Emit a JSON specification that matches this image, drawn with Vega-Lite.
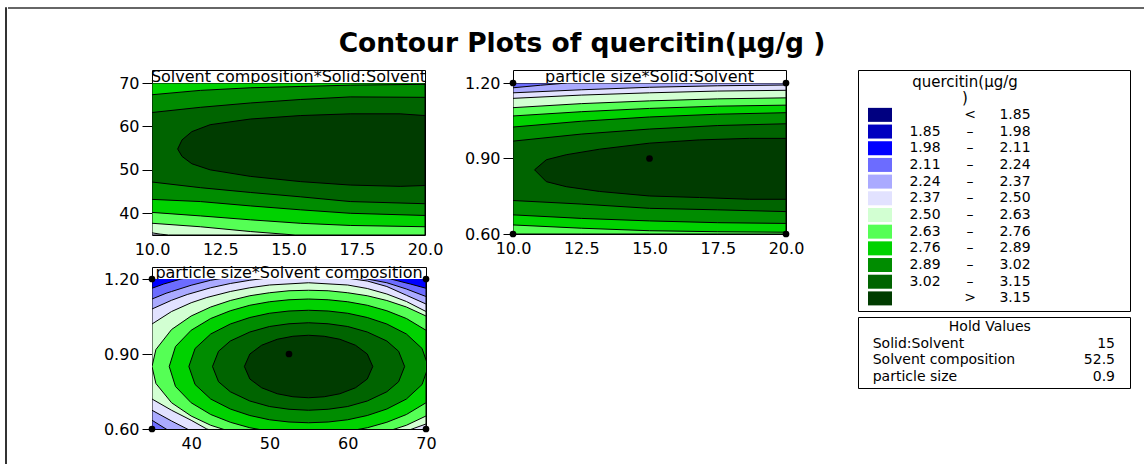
{
"$schema":"https://vega.github.io/schema/vega-lite/v6.json",
"background":"white",
"padding":{"left":4,"top":6,"right":0,"bottom":0},
"config":{"view":{"stroke":null},"font":"DejaVu Sans",
 "axis":{"labelFont":"DejaVu Sans","labelFontSize":16,"labelColor":"black","tickColor":"black","grid":false,"domain":false,"title":null,"tickSize":10,"tickWidth":1,"labelPadding":3,"labelFlush":false,"labelOverlap":false},
 "text":{"font":"DejaVu Sans","fontSize":14,"color":"black"}},
"datasets":{
"p1":[
{"band":"b5","x":10,"lo":35,"hi":70},{"band":"b5","x":20,"lo":35,"hi":70},
{"band":"b6","x":10,"lo":35.5,"hi":70},{"band":"b6","x":10.3,"lo":35.2,"hi":70},{"band":"b6","x":10.6,"lo":35,"hi":70},{"band":"b6","x":20,"lo":35,"hi":70},
{"band":"b7","x":10,"lo":37.7,"hi":70},{"band":"b7","x":11.77,"lo":36.9,"hi":70},{"band":"b7","x":13.6,"lo":35.8,"hi":70},{"band":"b7","x":15.24,"lo":35,"hi":70},{"band":"b7","x":20,"lo":35,"hi":70},
{"band":"b8","x":10,"lo":40.2,"hi":70},{"band":"b8","x":11.77,"lo":39.4,"hi":70},{"band":"b8","x":13.6,"lo":38.5,"hi":70},{"band":"b8","x":15.43,"lo":37.7,"hi":70},{"band":"b8","x":17.26,"lo":37.2,"hi":70},{"band":"b8","x":20,"lo":36.9,"hi":70},
{"band":"b9","x":10,"lo":43.2,"hi":67.3},{"band":"b9","x":11.77,"lo":42.7,"hi":68.3},{"band":"b9","x":13.6,"lo":41.7,"hi":68.9},{"band":"b9","x":15.43,"lo":40.8,"hi":69.2},{"band":"b9","x":17.26,"lo":40,"hi":69.5},{"band":"b9","x":20,"lo":39.5,"hi":69.7},
{"band":"b10","x":10,"lo":47.2,"hi":63.2},{"band":"b10","x":11.77,"lo":45.9,"hi":64.4},{"band":"b10","x":13.6,"lo":44.8,"hi":65.4},{"band":"b10","x":15.43,"lo":43.8,"hi":66.2},{"band":"b10","x":17.26,"lo":42.7,"hi":66.8},{"band":"b10","x":20,"lo":42.2,"hi":66.7},
{"band":"b11","x":10.94,"lo":54.8,"hi":54.8},{"band":"b11","x":11.1,"lo":53.1,"hi":56.9},{"band":"b11","x":11.46,"lo":51.4,"hi":58.8},{"band":"b11","x":12.13,"lo":50,"hi":60.4},{"band":"b11","x":13.6,"lo":48.5,"hi":61.7},{"band":"b11","x":15.43,"lo":47.3,"hi":62.5},{"band":"b11","x":17.26,"lo":46.5,"hi":62.9},{"band":"b11","x":19.09,"lo":46.2,"hi":62.9},{"band":"b11","x":20,"lo":46.4,"hi":62.5}
],
"p2":[
{"band":"b3","x":10,"lo":0.6,"hi":1.2},{"band":"b3","x":20,"lo":0.6,"hi":1.2},
{"band":"b4","x":10,"lo":0.6,"hi":1.181},{"band":"b4","x":11,"lo":0.6,"hi":1.191},{"band":"b4","x":12,"lo":0.6,"hi":1.2},{"band":"b4","x":20,"lo":0.6,"hi":1.2},
{"band":"b5","x":10,"lo":0.6,"hi":1.161},{"band":"b5","x":12.5,"lo":0.6,"hi":1.173},{"band":"b5","x":15,"lo":0.6,"hi":1.183},{"band":"b5","x":17.5,"lo":0.6,"hi":1.189},{"band":"b5","x":20,"lo":0.6,"hi":1.192},
{"band":"b6","x":10,"lo":0.6,"hi":1.139},{"band":"b6","x":12.5,"lo":0.6,"hi":1.152},{"band":"b6","x":15,"lo":0.6,"hi":1.161},{"band":"b6","x":17.5,"lo":0.6,"hi":1.168},{"band":"b6","x":20,"lo":0.6,"hi":1.171},
{"band":"b7","x":10,"lo":0.6,"hi":1.102},{"band":"b7","x":12.5,"lo":0.6,"hi":1.118},{"band":"b7","x":15,"lo":0.6,"hi":1.129},{"band":"b7","x":17.5,"lo":0.6,"hi":1.137},{"band":"b7","x":20,"lo":0.6,"hi":1.141},
{"band":"b8","x":10,"lo":0.636,"hi":1.069},{"band":"b8","x":12.5,"lo":0.623,"hi":1.086},{"band":"b8","x":15,"lo":0.613,"hi":1.099},{"band":"b8","x":17.5,"lo":0.609,"hi":1.108},{"band":"b8","x":20,"lo":0.607,"hi":1.112},
{"band":"b9","x":10,"lo":0.676,"hi":1.025},{"band":"b9","x":12.5,"lo":0.662,"hi":1.048},{"band":"b9","x":15,"lo":0.652,"hi":1.065},{"band":"b9","x":17.5,"lo":0.645,"hi":1.076},{"band":"b9","x":20,"lo":0.642,"hi":1.082},
{"band":"b10","x":10,"lo":0.733,"hi":0.969},{"band":"b10","x":12.5,"lo":0.719,"hi":0.997},{"band":"b10","x":15,"lo":0.702,"hi":1.017},{"band":"b10","x":17.5,"lo":0.696,"hi":1.031},{"band":"b10","x":20,"lo":0.689,"hi":1.038},
{"band":"b11","x":10.79,"lo":0.855,"hi":0.855},{"band":"b11","x":11.22,"lo":0.808,"hi":0.895},{"band":"b11","x":11.95,"lo":0.788,"hi":0.915},{"band":"b11","x":13.17,"lo":0.769,"hi":0.937},{"band":"b11","x":15,"lo":0.751,"hi":0.961},{"band":"b11","x":16.83,"lo":0.745,"hi":0.974},{"band":"b11","x":18.66,"lo":0.738,"hi":0.98},{"band":"b11","x":20,"lo":0.738,"hi":0.98}
],
"p3":[
{"band":"b0","x":35,"lo":0.6,"hi":1.2},{"band":"b0","x":70,"lo":0.6,"hi":1.2},
{"band":"b2","x":35,"lo":0.538,"hi":1.21},{"band":"b2","x":40,"lo":0.479,"hi":1.245},{"band":"b2","x":45,"lo":0.442,"hi":1.27},{"band":"b2","x":52,"lo":0.42,"hi":1.29},{"band":"b2","x":60,"lo":0.43,"hi":1.27},{"band":"b2","x":65,"lo":0.442,"hi":1.25},{"band":"b2","x":70,"lo":0.479,"hi":1.21},
{"band":"b3","x":35,"lo":0.571,"hi":1.163},{"band":"b3","x":36.5,"lo":0.55,"hi":1.18},{"band":"b3","x":38.7,"lo":0.523,"hi":1.2},{"band":"b3","x":42.5,"lo":0.484,"hi":1.222},{"band":"b3","x":45,"lo":0.466,"hi":1.235},{"band":"b3","x":52,"lo":0.442,"hi":1.25},{"band":"b3","x":59,"lo":0.446,"hi":1.235},{"band":"b3","x":62.5,"lo":0.456,"hi":1.222},{"band":"b3","x":65.5,"lo":0.47,"hi":1.2},{"band":"b3","x":68,"lo":0.488,"hi":1.18},{"band":"b3","x":70,"lo":0.506,"hi":1.163},
{"band":"b4","x":35,"lo":0.635,"hi":1.12},{"band":"b4","x":36.8,"lo":0.6,"hi":1.143},{"band":"b4","x":37.5,"lo":0.588,"hi":1.15},{"band":"b4","x":40,"lo":0.555,"hi":1.175},{"band":"b4","x":42.5,"lo":0.53,"hi":1.195},{"band":"b4","x":45,"lo":0.51,"hi":1.208},{"band":"b4","x":47.5,"lo":0.495,"hi":1.218},{"band":"b4","x":52,"lo":0.48,"hi":1.225},{"band":"b4","x":57,"lo":0.478,"hi":1.22},{"band":"b4","x":60,"lo":0.48,"hi":1.212},{"band":"b4","x":62.5,"lo":0.488,"hi":1.2},{"band":"b4","x":65,"lo":0.5,"hi":1.185},{"band":"b4","x":67.5,"lo":0.515,"hi":1.16},{"band":"b4","x":70,"lo":0.535,"hi":1.13},
{"band":"b5","x":35,"lo":0.675,"hi":1.08},{"band":"b5","x":37.5,"lo":0.632,"hi":1.115},{"band":"b5","x":39.5,"lo":0.6,"hi":1.138},{"band":"b5","x":42.5,"lo":0.565,"hi":1.165},{"band":"b5","x":45,"lo":0.545,"hi":1.182},{"band":"b5","x":47.5,"lo":0.53,"hi":1.195},{"band":"b5","x":50,"lo":0.52,"hi":1.205},{"band":"b5","x":55,"lo":0.512,"hi":1.211},{"band":"b5","x":60,"lo":0.52,"hi":1.203},{"band":"b5","x":62.5,"lo":0.53,"hi":1.192},{"band":"b5","x":65,"lo":0.545,"hi":1.17},{"band":"b5","x":67.5,"lo":0.563,"hi":1.135},{"band":"b5","x":70,"lo":0.585,"hi":1.1},
{"band":"b6","x":35,"lo":0.72,"hi":1.02},{"band":"b6","x":37.5,"lo":0.675,"hi":1.07},{"band":"b6","x":40,"lo":0.635,"hi":1.105},{"band":"b6","x":42,"lo":0.6,"hi":1.126},{"band":"b6","x":45,"lo":0.575,"hi":1.15},{"band":"b6","x":47.5,"lo":0.56,"hi":1.165},{"band":"b6","x":50,"lo":0.55,"hi":1.176},{"band":"b6","x":55,"lo":0.54,"hi":1.185},{"band":"b6","x":60,"lo":0.548,"hi":1.176},{"band":"b6","x":62.5,"lo":0.558,"hi":1.162},{"band":"b6","x":65,"lo":0.572,"hi":1.14},{"band":"b6","x":67.5,"lo":0.592,"hi":1.11},{"band":"b6","x":70,"lo":0.62,"hi":1.07},
{"band":"b7","x":35,"lo":0.85,"hi":0.85},{"band":"b7","x":35.5,"lo":0.782,"hi":0.918},{"band":"b7","x":37.5,"lo":0.705,"hi":0.998},{"band":"b7","x":40,"lo":0.652,"hi":1.052},{"band":"b7","x":42.5,"lo":0.615,"hi":1.088},{"band":"b7","x":45,"lo":0.59,"hi":1.114},{"band":"b7","x":47.5,"lo":0.572,"hi":1.133},{"band":"b7","x":50,"lo":0.56,"hi":1.145},{"band":"b7","x":52.5,"lo":0.552,"hi":1.153},{"band":"b7","x":55,"lo":0.55,"hi":1.155},{"band":"b7","x":57.5,"lo":0.552,"hi":1.153},{"band":"b7","x":60,"lo":0.56,"hi":1.145},{"band":"b7","x":62.5,"lo":0.572,"hi":1.133},{"band":"b7","x":65,"lo":0.59,"hi":1.114},{"band":"b7","x":67.5,"lo":0.615,"hi":1.088},{"band":"b7","x":70,"lo":0.652,"hi":1.052},
{"band":"b8","x":37.2,"lo":0.85,"hi":0.85},{"band":"b8","x":38,"lo":0.77,"hi":0.93},{"band":"b8","x":40,"lo":0.705,"hi":0.995},{"band":"b8","x":42.5,"lo":0.658,"hi":1.042},{"band":"b8","x":45,"lo":0.627,"hi":1.073},{"band":"b8","x":47.5,"lo":0.605,"hi":1.095},{"band":"b8","x":50,"lo":0.591,"hi":1.109},{"band":"b8","x":52.5,"lo":0.583,"hi":1.117},{"band":"b8","x":55,"lo":0.58,"hi":1.12},{"band":"b8","x":57.5,"lo":0.583,"hi":1.117},{"band":"b8","x":60,"lo":0.591,"hi":1.109},{"band":"b8","x":62.5,"lo":0.605,"hi":1.095},{"band":"b8","x":65,"lo":0.627,"hi":1.073},{"band":"b8","x":67.5,"lo":0.658,"hi":1.042},{"band":"b8","x":70,"lo":0.705,"hi":0.995},
{"band":"b9","x":39.71,"lo":0.85,"hi":0.85},{"band":"b9","x":40.5,"lo":0.778,"hi":0.922},{"band":"b9","x":42.5,"lo":0.72,"hi":0.98},{"band":"b9","x":45,"lo":0.68,"hi":1.02},{"band":"b9","x":47.5,"lo":0.654,"hi":1.046},{"band":"b9","x":50,"lo":0.637,"hi":1.063},{"band":"b9","x":52.5,"lo":0.628,"hi":1.072},{"band":"b9","x":55,"lo":0.625,"hi":1.075},{"band":"b9","x":57.5,"lo":0.628,"hi":1.072},{"band":"b9","x":60,"lo":0.637,"hi":1.063},{"band":"b9","x":62.5,"lo":0.654,"hi":1.046},{"band":"b9","x":65,"lo":0.68,"hi":1.02},{"band":"b9","x":67.5,"lo":0.72,"hi":0.98},{"band":"b9","x":69.5,"lo":0.778,"hi":0.922},{"band":"b9","x":70.29,"lo":0.85,"hi":0.85},
{"band":"b10","x":42.73,"lo":0.85,"hi":0.85},{"band":"b10","x":43.5,"lo":0.789,"hi":0.911},{"band":"b10","x":45,"lo":0.749,"hi":0.952},{"band":"b10","x":47.5,"lo":0.712,"hi":0.988},{"band":"b10","x":50,"lo":0.69,"hi":1.01},{"band":"b10","x":52.5,"lo":0.679,"hi":1.021},{"band":"b10","x":55,"lo":0.675,"hi":1.025},{"band":"b10","x":57.5,"lo":0.679,"hi":1.021},{"band":"b10","x":60,"lo":0.69,"hi":1.01},{"band":"b10","x":62.5,"lo":0.712,"hi":0.988},{"band":"b10","x":65,"lo":0.749,"hi":0.952},{"band":"b10","x":66.5,"lo":0.789,"hi":0.911},{"band":"b10","x":67.27,"lo":0.85,"hi":0.85},
{"band":"b11","x":46.8,"lo":0.85,"hi":0.85},{"band":"b11","x":47.5,"lo":0.8,"hi":0.9},{"band":"b11","x":49,"lo":0.765,"hi":0.935},{"band":"b11","x":51,"lo":0.741,"hi":0.959},{"band":"b11","x":53,"lo":0.729,"hi":0.971},{"band":"b11","x":55,"lo":0.725,"hi":0.975},{"band":"b11","x":57,"lo":0.729,"hi":0.971},{"band":"b11","x":59,"lo":0.741,"hi":0.959},{"band":"b11","x":61,"lo":0.765,"hi":0.935},{"band":"b11","x":62.5,"lo":0.8,"hi":0.9},{"band":"b11","x":63.2,"lo":0.85,"hi":0.85}
],
"p2dots":[{"x":10,"y":1.2},{"x":20,"y":1.2},{"x":10,"y":0.6},{"x":20,"y":0.6},{"x":15,"y":0.9}],
"p3dots":[{"x":35,"y":1.2},{"x":70,"y":1.2},{"x":35,"y":0.6},{"x":70,"y":0.6},{"x":52.5,"y":0.9}],
"legend":[
{"band":"b0","lo":"","sym":"<","hi":"1.85"},{"band":"b1","lo":"1.85","sym":"–","hi":"1.98"},{"band":"b2","lo":"1.98","sym":"–","hi":"2.11"},{"band":"b3","lo":"2.11","sym":"–","hi":"2.24"},{"band":"b4","lo":"2.24","sym":"–","hi":"2.37"},{"band":"b5","lo":"2.37","sym":"–","hi":"2.50"},{"band":"b6","lo":"2.50","sym":"–","hi":"2.63"},{"band":"b7","lo":"2.63","sym":"–","hi":"2.76"},{"band":"b8","lo":"2.76","sym":"–","hi":"2.89"},{"band":"b9","lo":"2.89","sym":"–","hi":"3.02"},{"band":"b10","lo":"3.02","sym":"–","hi":"3.15"},{"band":"b11","lo":"","sym":">","hi":"3.15"}
],
"hold":[{"row":"h0","name":"Solid:Solvent","val":"15"},{"row":"h1","name":"Solvent composition","val":"52.5"},{"row":"h2","name":"particle size","val":"0.9"}]
},
"spacing":0,
"hconcat":[
 {"width":1,"height":457,"view":{"stroke":"#333333"},"data":{"values":[{}]},"mark":{"type":"point","size":0,"opacity":0}},
 {"spacing":22,"vconcat":[
  {"width":992,"height":1,"data":{"values":[{}]},"mark":{"type":"rule","color":"#333333","strokeWidth":1.5},
   "encoding":{"x":{"datum":-144,"type":"quantitative","scale":{"domain":[0,992],"nice":false,"zero":false},"axis":null},"x2":{"datum":992},
    "y":{"datum":0,"type":"quantitative","scale":{"domain":[0,1],"nice":false,"zero":false},"axis":null}}},
  {"title":{"text":"Contour Plots of quercitin(µg/g )","font":"DejaVu Sans","fontSize":26.5,"fontWeight":"bold","color":"black","anchor":"middle","offset":10.5,"dx":11},
   "spacing":52,
   "hconcat":[
    {"spacing":3,"vconcat":[
     {"spacing":18,"hconcat":[
      {"spacing":0,"bounds":"flush","vconcat":[
       {"width":273,"height":13,"view":{"stroke":"black","fill":"white"},"data":{"values":[{"t":"Solvent composition*Solid:Solvent"}]},"mark":{"type":"text","fontSize":16},"encoding":{"text":{"field":"t","type":"nominal"}}},
       {"width":273,"height":152,"view":{"stroke":"black"},"data":{"name":"p1"},
        "mark":{"type":"area","orient":"vertical","clip":true,"stroke":"black","strokeWidth":1,"interpolate":"linear"},
        "encoding":{
         "x":{"field":"x","type":"quantitative","scale":{"domain":[10,20],"nice":false,"zero":false},"axis":{"values":[10,12.5,15,17.5,20],"format":".1f","ticks":false,"labelPadding":6,"minExtent":25,"maxExtent":25}},
         "y":{"field":"lo","type":"quantitative","stack":null,"scale":{"domain":[35,70],"nice":false,"zero":false},"axis":{"values":[40,50,60,70],"format":"d","minExtent":140,"maxExtent":140}},
         "y2":{"field":"hi"},
         "fill":{"field":"band","type":"nominal","scale":{"domain":["b0","b1","b2","b3","b4","b5","b6","b7","b8","b9","b10","b11"],"range":["#000080","#0000C0","#0000FF","#6C6CFF","#AAAAFF","#E2E2FF","#D2FFD2","#55FF55","#00D200","#008C00","#006400","#003C00"]},"legend":null}}}
      ]},
      {"spacing":0,"bounds":"flush","vconcat":[
       {"width":273,"height":13,"view":{"stroke":"black","fill":"white"},"data":{"values":[{"t":"particle size*Solid:Solvent"}]},"mark":{"type":"text","fontSize":16},"encoding":{"text":{"field":"t","type":"nominal"}}},
       {"width":273,"height":151,"view":{"stroke":"black"},"layer":[
        {"data":{"name":"p2"},
         "mark":{"type":"area","orient":"vertical","clip":true,"stroke":"black","strokeWidth":1,"interpolate":"linear"},
         "encoding":{
          "x":{"field":"x","type":"quantitative","scale":{"domain":[10,20],"nice":false,"zero":false},"axis":{"values":[10,12.5,15,17.5,20],"format":".1f","ticks":false,"labelPadding":6,"minExtent":25,"maxExtent":25}},
          "y":{"field":"lo","type":"quantitative","stack":null,"scale":{"domain":[0.6,1.2],"nice":false,"zero":false},"axis":{"values":[0.6,0.75,0.9,1.05,1.2],"format":".2f","minExtent":50,"maxExtent":50}},
          "y2":{"field":"hi"},
          "fill":{"field":"band","type":"nominal","scale":{"domain":["b0","b1","b2","b3","b4","b5","b6","b7","b8","b9","b10","b11"],"range":["#000080","#0000C0","#0000FF","#6C6CFF","#AAAAFF","#E2E2FF","#D2FFD2","#55FF55","#00D200","#008C00","#006400","#003C00"]},"legend":null}}},
        {"data":{"name":"p2dots"},"mark":{"type":"point","filled":true,"color":"black","opacity":1,"size":45},
         "encoding":{"x":{"field":"x","type":"quantitative"},"y":{"field":"y","type":"quantitative"}}}
       ]}
      ]}
     ]},
     {"spacing":0,"bounds":"flush","vconcat":[
      {"width":274,"height":12,"view":{"stroke":"black","fill":"white"},"data":{"values":[{"t":"particle size*Solvent composition"}]},"mark":{"type":"text","fontSize":16},"encoding":{"text":{"field":"t","type":"nominal"}}},
      {"width":274,"height":150,"view":{"stroke":"black"},"layer":[
       {"data":{"name":"p3"},
        "mark":{"type":"area","orient":"vertical","clip":true,"stroke":"black","strokeWidth":1,"interpolate":"linear"},
        "encoding":{
         "x":{"field":"x","type":"quantitative","scale":{"domain":[35,70],"nice":false,"zero":false},"axis":{"values":[40,50,60,70],"format":"d","ticks":false,"labelPadding":6,"minExtent":25,"maxExtent":25}},
         "y":{"field":"lo","type":"quantitative","stack":null,"scale":{"domain":[0.6,1.2],"nice":false,"zero":false},"axis":{"values":[0.6,0.75,0.9,1.05,1.2],"format":".2f","minExtent":140,"maxExtent":140}},
         "y2":{"field":"hi"},
         "fill":{"field":"band","type":"nominal","scale":{"domain":["b0","b1","b2","b3","b4","b5","b6","b7","b8","b9","b10","b11"],"range":["#000080","#0000C0","#0000FF","#6C6CFF","#AAAAFF","#E2E2FF","#D2FFD2","#55FF55","#00D200","#008C00","#006400","#003C00"]},"legend":null}}},
       {"data":{"name":"p3dots"},"mark":{"type":"point","filled":true,"color":"black","opacity":1,"size":45},
        "encoding":{"x":{"field":"x","type":"quantitative"},"y":{"field":"y","type":"quantitative"}}}
      ]}
     ]}
    ]},
    {"spacing":4,"vconcat":[
     {"width":272,"height":241,"view":{"stroke":"black"},"data":{"name":"legend"},
      "encoding":{"y":{"field":"band","type":"nominal","scale":{"type":"point","padding":0,"domain":["t1","t2","b0","b1","b2","b3","b4","b5","b6","b7","b8","b9","b10","b11"],"range":[11.5,228.4]},"axis":null}},
      "layer":[
       {"mark":{"type":"point","shape":"M-1,-0.5833H1V0.5833H-1Z","size":576,"filled":true,"opacity":1,"strokeWidth":0},
        "encoding":{"x":{"datum":"sw","type":"nominal","scale":{"type":"point","padding":0,"domain":["sw","lo","sym","hi"],"range":[22,157]},"axis":null},
         "fill":{"field":"band","type":"nominal","scale":{"domain":["b0","b1","b2","b3","b4","b5","b6","b7","b8","b9","b10","b11"],"range":["#000080","#0000C0","#0000FF","#6C6CFF","#AAAAFF","#E2E2FF","#D2FFD2","#55FF55","#00D200","#008C00","#006400","#003C00"]},"legend":null}}},
       {"mark":{"type":"text"},"encoding":{"x":{"datum":"lo","type":"nominal","axis":null},"text":{"field":"lo","type":"nominal"}}},
       {"mark":{"type":"text"},"encoding":{"x":{"datum":"sym","type":"nominal","axis":null},"text":{"field":"sym","type":"nominal"}}},
       {"mark":{"type":"text"},"encoding":{"x":{"datum":"hi","type":"nominal","axis":null},"text":{"field":"hi","type":"nominal"}}},
       {"data":{"values":[{"band":"t1","t":"quercitin(µg/g"},{"band":"t2","t":")"}]},"mark":{"type":"text","dx":-5,"fontSize":15},
        "encoding":{"x":{"datum":"sym","type":"nominal","axis":null},"text":{"field":"t","type":"nominal"}}}
      ]},
     {"width":272,"height":71,"view":{"stroke":"black"},"data":{"name":"hold"},
      "encoding":{"y":{"field":"row","type":"nominal","scale":{"type":"point","padding":0,"domain":["title","h0","h1","h2"],"range":[10,60]},"axis":null}},
      "layer":[
       {"mark":{"type":"text","align":"left"},"encoding":{"x":{"datum":"name","type":"nominal","scale":{"type":"point","padding":0,"domain":["name","mid","val"],"range":[14.7,257]},"axis":null},"text":{"field":"name","type":"nominal"}}},
       {"mark":{"type":"text","align":"right"},"encoding":{"x":{"datum":"val","type":"nominal","axis":null},"text":{"field":"val","type":"nominal"}}},
       {"data":{"values":[{"row":"title","t":"Hold Values"}]},"mark":{"type":"text","dx":-4},"encoding":{"x":{"datum":"mid","type":"nominal","axis":null},"text":{"field":"t","type":"nominal"}}}
      ]}
    ]}
   ]}
 ]}
]
}
